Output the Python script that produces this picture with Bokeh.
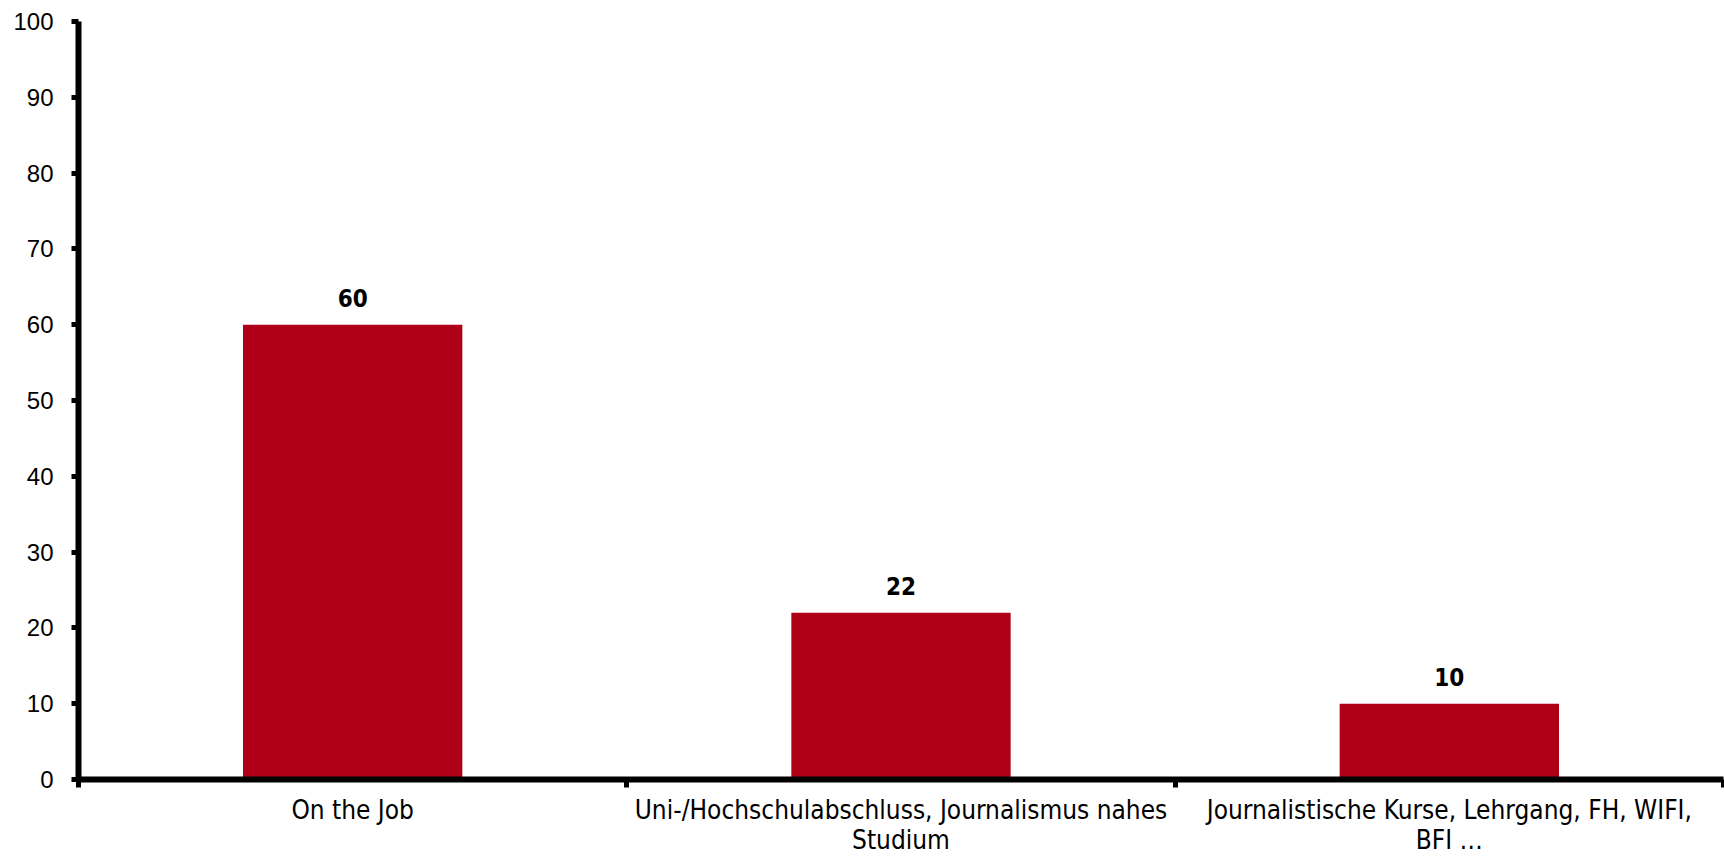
from bokeh.plotting import figure
from bokeh.models import Range1d, FixedTicker, CustomJSTickFormatter, ColumnDataSource
from bokeh.core.properties import value
from bokeh.embed import file_html
from bokeh.resources import INLINE

# Wege in den Journalismus (Angaben in Prozent)
categories = [
    "On the Job",
    "Uni-/Hochschulabschluss, Journalismus nahes\nStudium",
    "Journalistische Kurse, Lehrgang, FH, WIFI,\nBFI …",
]
values = [60, 22, 10]
y_ticks = [0, 10, 20, 30, 40, 50, 60, 70, 80, 90, 100]

BAR_COLOR = "#AF0017"

n = len(categories)
centers = [i + 0.5 for i in range(n)]
boundaries = [float(i) for i in range(n + 1)]

source = ColumnDataSource(dict(
    x=centers,
    top=values,
    label=[str(v) for v in values],
))

p = figure(
    width=1724, height=857,
    x_range=Range1d(0, n), y_range=Range1d(0, 100),
    output_backend="svg", toolbar_location=None,
    min_border_left=78, min_border_right=1,
    min_border_top=21, min_border_bottom=74,
)
p.outline_line_color = None
p.xgrid.visible = False
p.ygrid.visible = False
p.background_fill_color = "white"
p.border_fill_color = "white"

p.vbar(x="x", top="top", width=0.4, source=source,
       fill_color=BAR_COLOR, line_color=None)

p.text(x="x", y="top", text="label", source=source,
       text_align="center", text_baseline="alphabetic", y_offset=-27,
       text_font=value("DejaVu Sans Condensed"), text_font_style="bold",
       text_font_size="24px", text_color="black")

# x axis: labels at bar centres, ticks at category boundaries
xa = p.xaxis[0]
xa.ticker = FixedTicker(ticks=centers, minor_ticks=boundaries)
xa.formatter = CustomJSTickFormatter(args=dict(labels=categories),
                                     code="return labels[Math.floor(tick)];")
xa.axis_line_width = 6
xa.axis_line_color = "black"
xa.major_tick_line_color = None
xa.major_tick_out = 0
xa.major_tick_in = 0
xa.minor_tick_line_color = "black"
xa.minor_tick_line_width = 5
xa.minor_tick_out = 8
xa.minor_tick_in = 0
xa.major_label_standoff = 7
xa.major_label_text_font = "DejaVu Sans Condensed"
xa.major_label_text_font_size = "26px"
xa.major_label_text_line_height = 1.0
xa.major_label_text_color = "black"

# y axis
ya = p.yaxis[0]
ya.ticker = FixedTicker(ticks=y_ticks)
ya.axis_line_width = 6
ya.axis_line_color = "black"
ya.major_tick_line_color = "black"
ya.major_tick_line_width = 5
ya.major_tick_out = 7
ya.major_tick_in = 0
ya.minor_tick_line_color = None
ya.major_label_standoff = 18
ya.major_label_text_font = "Liberation Sans"
ya.major_label_text_font_size = "24px"
ya.major_label_text_color = "black"

open("out.html", "w").write(file_html(p, INLINE))
